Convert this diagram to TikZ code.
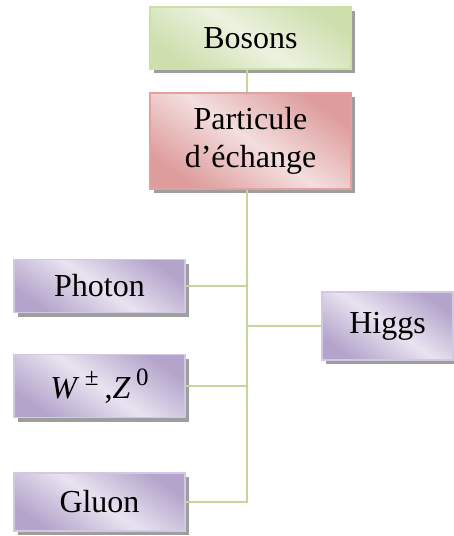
\documentclass[tikz,border=0pt]{standalone}
\usepackage{fontspec}
\setmainfont{Liberation Serif}
\usetikzlibrary{shadows}
\definecolor{linegreen}{RGB}{195,214,155}
\definecolor{gdark}{RGB}{206,223,174}
\definecolor{glight}{RGB}{236,242,224}
\definecolor{gborder}{RGB}{205,224,168}
\definecolor{rdark}{RGB}{222,156,156}
\definecolor{rlight}{RGB}{244,222,222}
\definecolor{rborder}{RGB}{226,160,158}
\definecolor{pdark}{RGB}{180,164,203}
\definecolor{plight}{RGB}{232,227,240}
\definecolor{pborder}{RGB}{210,200,225}
\newcommand{\supr}[1]{\raisebox{0.40em}{\fontsize{25}{25}\selectfont #1}}
\tikzset{
  boxbase/.style={rectangle, line width=1.2pt, font=\fontsize{32}{38}\selectfont, align=center, inner sep=0pt,
    drop shadow={shadow xshift=4pt, shadow yshift=-4pt, fill=black!38, opacity=1}},
  greenbox/.style={boxbase, draw=gborder, top color=gdark, bottom color=gdark, middle color=glight, shading angle=-35},
  redbox/.style={boxbase, draw=rborder, top color=rdark, bottom color=rdark, middle color=rlight, shading angle=-35},
  purplebox/.style={boxbase, draw=pborder, top color=pdark, bottom color=pdark, middle color=plight, shading angle=-35},
  conn/.style={draw=linegreen, line width=2.2pt}
}
\begin{document}
\begin{tikzpicture}[x=1pt, y=-1pt]
\useasboundingbox (0,0) rectangle (453,536);
\coordinate (spine) at (247,0);
\node[greenbox, minimum width=201pt, minimum height=62pt] (bos) at (250.5,38) {Bosons};
\node[redbox, minimum width=201pt, minimum height=96pt] (part) at (250.5,141) {Particule\\[0pt]d’échange};
\node[purplebox, minimum width=171pt, minimum height=53pt] (pho) at (99.5,286) {Photon};
\node[purplebox, minimum width=131pt, minimum height=68pt] (hig) at (387.5,326) {Higgs};
\node[purplebox, minimum width=171pt, minimum height=63pt] (wz) at (99.5,386) {\textit{W}\,\supr{±}\hspace{6pt},\textit{Z}\,\supr{0}};
\node[purplebox, minimum width=171pt, minimum height=58pt] (glu) at (99.5,502) {Gluon};
\draw[conn] (bos.south -| spine) -- (part.north -| spine);
\draw[conn] (part.south -| spine) -- (spine |- glu.east) -- (glu.east);
\draw[conn] (pho.east) -- (pho.east -| spine);
\draw[conn] (wz.east) -- (wz.east -| spine);
\draw[conn] (hig.west) -- (hig.west -| spine);
\end{tikzpicture}
\end{document}
